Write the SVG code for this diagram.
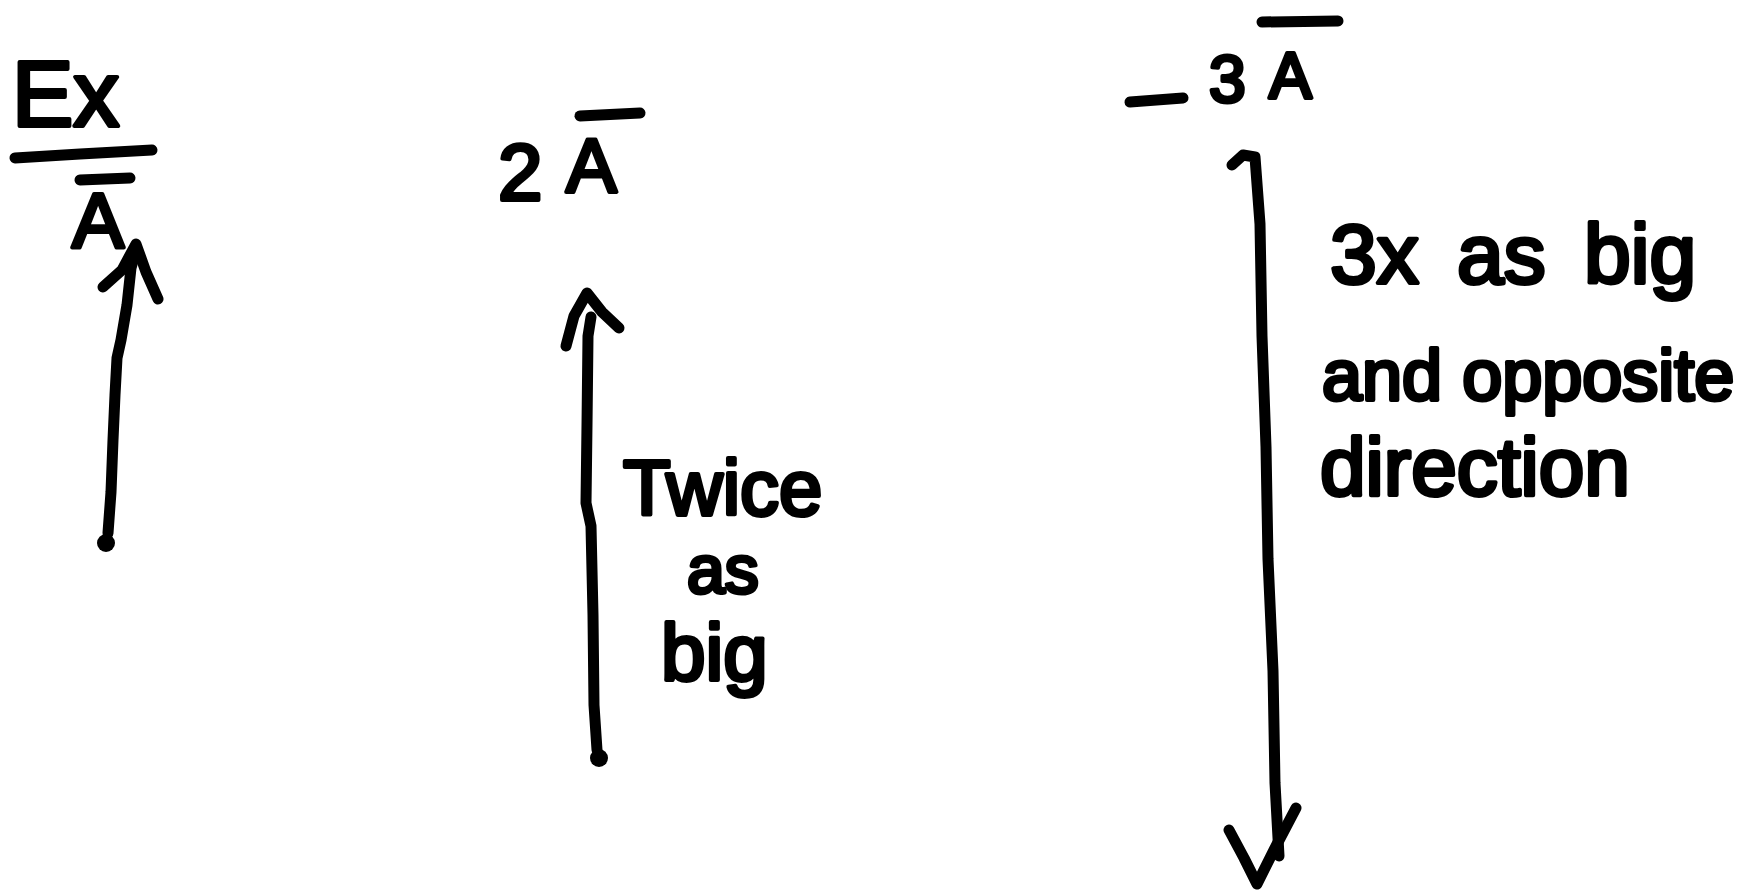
<svg xmlns="http://www.w3.org/2000/svg" width="1754" height="891" viewBox="0 0 1754 891">
  <style>
    .ink { stroke:#000; stroke-width:11; fill:none; stroke-linecap:round; stroke-linejoin:round; }
    .hand { font-family:"Liberation Sans", Arial, sans-serif; font-weight:normal; fill:#000; stroke:#000; stroke-width:4; stroke-linejoin:round; stroke-linecap:round; }
  </style>
  <rect width="1754" height="891" fill="#fff"/>

  <g id="connectors">
    <g id="vec-A">
      <circle cx="106" cy="543" r="9" fill="#000"/>
      <polyline class="ink" points="108,533 111,492 113,440 115,395 117,358 121,340 127,305 131,268 136,250"/>
      <polyline class="ink" points="103,287 122,270 136,244 146,272 158,299"/>
    </g>
    <g id="vec-2A">
      <circle cx="599" cy="758" r="9" fill="#000"/>
      <polyline class="ink" points="597,750 594,705 593,615 591,526 586,503 587,425 588,336 591,317"/>
      <polyline class="ink" points="566,346 574,316 587,293 602,312 619,328"/>
    </g>
    <g id="vec-neg3A">
      <polyline class="ink" points="1232,165 1243,155 1255,157 1260,224 1262,336 1266,447 1268,559 1273,671 1275,783 1279,856"/>
      <polyline class="ink" points="1229,830 1244,858 1257,884 1275,848 1296,808"/>
    </g>
  </g>

  <g id="label-ex">
    <text class="hand" x="12" y="126" font-size="92">Ex</text>
    <path class="ink" d="M15,158 L80,154 L152,150"/>
  </g>

  <g id="label-A">
    <path class="ink" d="M80,180 L130,178"/>
    <text class="hand" x="72" y="248" font-size="78">A</text>
  </g>

  <g id="label-2A">
    <text class="hand" x="498" y="200" font-size="80">2</text>
    <path class="ink" d="M580,116 L640,113"/>
    <text class="hand" x="566" y="192" font-size="76">A</text>
  </g>

  <g id="label-neg3A">
    <path class="ink" d="M1130,102 L1183,98"/>
    <text class="hand" x="1209" y="102" font-size="66">3</text>
    <path class="ink" d="M1262,22 L1338,21"/>
    <text class="hand" x="1269" y="98" font-size="64">A</text>
  </g>

  <g id="note-twice">
    <text class="hand" x="623" y="515" font-size="78">Twice</text>
    <text class="hand" x="687" y="593" font-size="68">as</text>
    <text class="hand" x="661" y="680" font-size="80">big</text>
  </g>

  <g id="note-3x">
    <text class="hand" x="1330" y="283" font-size="84" word-spacing="15">3x as big</text>
    <text class="hand" x="1322" y="400" font-size="72">and opposite</text>
    <text class="hand" x="1320" y="495" font-size="82">direction</text>
  </g>
</svg>
